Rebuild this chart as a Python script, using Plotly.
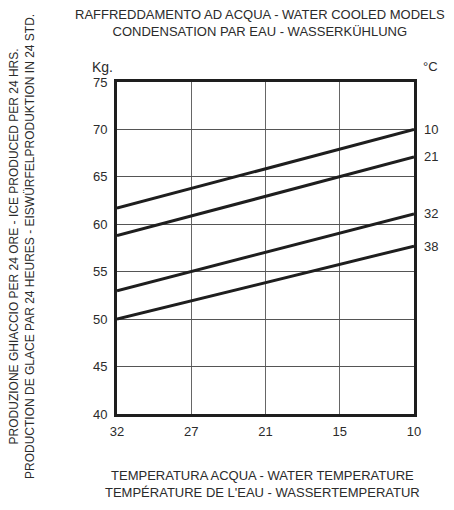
import plotly.graph_objects as go

# water temperature categories (x axis, equally spaced on the chart)
water_temps = ["32", "27", "21", "15", "10"]
# line end points (x = first and last water temperature)
line_x = ["32", "10"]
air_temps = ["10", "21", "32", "38"]
prod_10 = [61.7, 70.0]
prod_21 = [58.8, 67.1]
prod_32 = [53.0, 61.1]
prod_38 = [50.0, 57.7]
y_ticks = [40, 45, 50, 55, 60, 65, 70, 75]

series = [prod_10, prod_21, prod_32, prod_38]

FONT = "Liberation Sans, Arial, sans-serif"
TXT = "#2b2b2b"
INK = "#1e1e1e"

# plot frame in page pixels (page has an 8px body margin)
W, H = 446, 502
L, R, T, B = 117, 414, 82, 414


def px(x):
    return (x - L) / (R - L)


def py(y):
    return 1 - (y - T) / (B - T)


fig = go.Figure()
for name, vals in zip(air_temps, series):
    fig.add_trace(go.Scatter(
        x=line_x, y=vals, mode="lines", name=name,
        line=dict(color=INK, width=3),
        showlegend=False, cliponaxis=False,
    ))
    fig.add_annotation(
        x=1, xref="paper", y=vals[-1], yref="y", text=name,
        xanchor="left", yanchor="middle", xshift=8, showarrow=False,
        font=dict(family=FONT, size=13, color=TXT),
    )

fig.update_xaxes(
    type="category", categoryorder="array", categoryarray=water_temps,
    range=[0, 4], showgrid=True, gridcolor="#666666", gridwidth=1,
    showline=True, linecolor=INK, linewidth=3, mirror=True,
    ticks="outside", ticklen=3, tickcolor="rgba(0,0,0,0)",
    tickfont=dict(family=FONT, size=13, color=TXT), zeroline=False,
)
fig.update_yaxes(
    range=[40, 75], tickvals=y_ticks, showgrid=True, gridcolor="#555555",
    gridwidth=1, showline=True, linecolor=INK, linewidth=3, mirror=True,
    ticks="outside", ticklen=4, tickcolor="rgba(0,0,0,0)",
    tickfont=dict(family=FONT, size=13, color=TXT), zeroline=False,
)

# titles
fig.add_annotation(
    x=px(260), y=py(23), xref="paper", yref="paper", borderpad=0,
    xanchor="center", yanchor="middle", showarrow=False, align="center",
    text="RAFFREDDAMENTO AD ACQUA - WATER COOLED MODELS<br>CONDENSATION PAR EAU - WASSERKÜHLUNG",
    font=dict(family=FONT, size=13, color=TXT),
)
fig.add_annotation(
    x=px(262), y=py(484), xref="paper", yref="paper", borderpad=0,
    xanchor="center", yanchor="middle", showarrow=False, align="center",
    text="TEMPERATURA ACQUA - WATER TEMPERATURE<br>TEMPÉRATURE DE L'EAU - WASSERTEMPERATUR",
    font=dict(family=FONT, size=13, color=TXT),
)
fig.add_annotation(
    x=px(22), y=py(247), xref="paper", yref="paper", textangle=-90, borderpad=0,
    xanchor="center", yanchor="middle", showarrow=False, align="center",
    text="PRODUZIONE GHIACCIO PER 24 ORE - ICE PRODUCED PER 24 HRS.<br>PRODUCTION DE GLACE PAR 24 HEURES - EISWÜRFELPRODUKTION IN 24 STD.",
    font=dict(family=FONT, size=12, color=TXT),
)
fig.add_annotation(x=px(115), y=py(67), xref="paper", yref="paper", text="Kg.",
                   showarrow=False, xanchor="right", yanchor="middle",
                   font=dict(family=FONT, size=14, color=TXT))
fig.add_annotation(x=px(421), y=py(66), xref="paper", yref="paper", text="°C",
                   showarrow=False, xanchor="left", yanchor="middle",
                   font=dict(family=FONT, size=13, color=TXT))

fig.update_layout(
    width=W, height=H,
    margin=dict(l=L - 8, r=W - (R - 8), t=T - 8, b=H - (B - 8)),
    paper_bgcolor="white", plot_bgcolor="white",
)

fig.write_html("out.html")
